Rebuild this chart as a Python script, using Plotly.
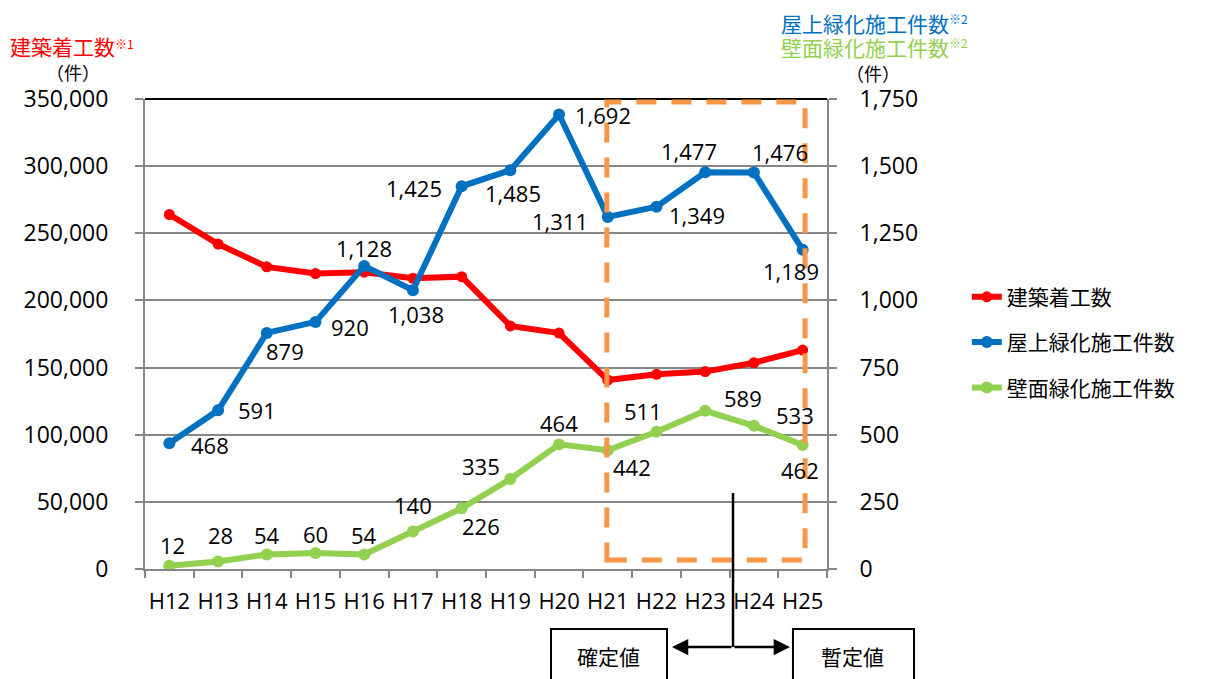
import plotly.graph_objects as go

categories = ["H12", "H13", "H14", "H15", "H16", "H17", "H18", "H19", "H20", "H21", "H22", "H23", "H24", "H25"]
building_starts = [264000, 242000, 225000, 220000, 221000, 216500, 217700, 181000, 175700, 140700, 145000, 147000, 153600, 163000]
rooftop_green = [468, 591, 879, 920, 1128, 1038, 1425, 1485, 1692, 1311, 1349, 1477, 1476, 1189]
wall_green = [12, 28, 54, 60, 54, 140, 226, 335, 464, 442, 511, 589, 533, 462]

# label offsets (pixels) for data labels
rooftop_shift = [(41, -2), (39, 0), (18, -18), (34, -5), (0, 18), (3, -24), (-48, -2), (3, -23),
                 (44, 0), (-48, -4), (40, -8), (-16, 21), (26, 21), (-12, -21)]
wall_shift = [(3, 21), (2, 26), (0, 20), (0, 19), (0, 20), (0, 26), (19, -18), (-29, 13),
              (0, 21), (24, -17), (-14, 21), (38, 13), (41, 11), (-3, -25)]

RED = "#FF0000"
BLUE = "#0070C0"
GREEN = "#92D050"
ORANGE = "#F79646"
GRID = "#868686"
JP = "Noto Sans CJK JP"
NUM = "Open Sans"

fig = go.Figure()
fig.add_trace(go.Scatter(x=categories, y=building_starts, name="建築着工数", mode="lines+markers",
                         line=dict(color=RED, width=6), marker=dict(color=RED, size=11),
                         legendgroup="a"))
fig.add_trace(go.Scatter(x=categories, y=rooftop_green, name="屋上緑化施工件数", mode="lines+markers",
                         line=dict(color=BLUE, width=6), marker=dict(color=BLUE, size=12),
                         yaxis="y2", legendgroup="b"))
fig.add_trace(go.Scatter(x=categories, y=wall_green, name="壁面緑化施工件数", mode="lines+markers",
                         line=dict(color=GREEN, width=6), marker=dict(color=GREEN, size=12),
                         yaxis="y2", legendgroup="c"))

annotations = []
for c, v, (dx, dy) in zip(categories, rooftop_green, rooftop_shift):
    annotations.append(dict(x=c, y=v, xref="x", yref="y2", text=f"{v:,}", showarrow=False,
                            xshift=dx, yshift=dy, font=dict(family=NUM, size=22, color="black")))
for c, v, (dx, dy) in zip(categories, wall_green, wall_shift):
    annotations.append(dict(x=c, y=v, xref="x", yref="y2", text=f"{v:,}", showarrow=False,
                            xshift=dx, yshift=dy, font=dict(family=NUM, size=22, color="black")))

# axis titles (note marks drawn as separate small texts)
annotations += [
    dict(x=-0.201, y=1.113, xref="paper", yref="paper", xanchor="left", yanchor="middle",
         text="建築着工数", showarrow=False, font=dict(family=JP, size=21, color=RED)),
    dict(x=-0.0465, y=1.119, xref="paper", yref="paper", xanchor="left", yanchor="middle",
         text="※1", showarrow=False, font=dict(family=JP, size=12, color=RED)),
    dict(x=-0.105, y=1.057, xref="paper", yref="paper", xanchor="center", yanchor="middle",
         text="（件）", showarrow=False, font=dict(family=JP, size=18, color="black")),
    dict(x=0.929, y=1.162, xref="paper", yref="paper", xanchor="left", yanchor="middle",
         text="屋上緑化施工件数", showarrow=False, font=dict(family=JP, size=21, color=BLUE)),
    dict(x=1.176, y=1.172, xref="paper", yref="paper", xanchor="left", yanchor="middle",
         text="※2", showarrow=False, font=dict(family=JP, size=12, color=BLUE)),
    dict(x=0.929, y=1.111, xref="paper", yref="paper", xanchor="left", yanchor="middle",
         text="壁面緑化施工件数", showarrow=False, font=dict(family=JP, size=21, color=GREEN)),
    dict(x=1.176, y=1.121, xref="paper", yref="paper", xanchor="left", yanchor="middle",
         text="※2", showarrow=False, font=dict(family=JP, size=12, color=GREEN)),
    dict(x=1.068, y=1.055, xref="paper", yref="paper", xanchor="center", yanchor="middle",
         text="（件）", showarrow=False, font=dict(family=JP, size=18, color="black")),
    # bottom boxes
    dict(x=0.680, y=-0.185, xref="paper", yref="paper", xanchor="center", yanchor="middle",
         text="確定値", showarrow=False, font=dict(family=JP, size=21, color="black")),
    dict(x=1.038, y=-0.185, xref="paper", yref="paper", xanchor="center", yanchor="middle",
         text="暫定値", showarrow=False, font=dict(family=JP, size=21, color="black")),
    # arrows
    dict(x=0.7727, y=-0.166, xref="paper", yref="paper", text="", showarrow=True,
         ax=61, ay=0, arrowhead=2, arrowsize=1.3, arrowwidth=2.5, arrowcolor="black"),
    dict(x=0.9457, y=-0.166, xref="paper", yref="paper", text="", showarrow=True,
         ax=-57, ay=0, arrowhead=2, arrowsize=1.3, arrowwidth=2.5, arrowcolor="black"),
]

shapes = [
    # top border
    dict(type="line", xref="paper", yref="paper", x0=0, x1=1, y0=1, y1=1,
         line=dict(color="black", width=2)),
    # orange dashed box around provisional years
    dict(type="rect", xref="x", yref="paper", x0=9 - 0.02, x1=13 + 0.05, y0=0.019, y1=0.9936,
         line=dict(color=ORANGE, width=5, dash="20px,15px")),
    # vertical divider line
    dict(type="line", xref="paper", yref="paper", x0=0.8622, x1=0.8622, y0=0.1617, y1=-0.166,
         line=dict(color="black", width=2.5)),
    # boxes
    dict(type="rect", xref="paper", yref="paper", x0=0.5953, x1=0.7654, y0=-0.1277, y1=-0.35,
         line=dict(color="black", width=2), fillcolor="white", layer="below"),
    dict(type="rect", xref="paper", yref="paper", x0=0.9501, x1=1.1276, y0=-0.1277, y1=-0.35,
         line=dict(color="black", width=2), fillcolor="white", layer="below"),
]

fig.update_layout(
    width=1223, height=671,
    margin=dict(l=137, r=404, t=91, b=110, autoexpand=False),
    plot_bgcolor="white", paper_bgcolor="white",
    showlegend=True,
    legend=dict(x=1.205, y=0.622, xanchor="left", yanchor="top", tracegroupgap=15,
                font=dict(family=JP, size=21, color="black"), bgcolor="rgba(0,0,0,0)"),
    xaxis=dict(type="category", showgrid=False, showline=True, linecolor=GRID, linewidth=2,
               ticks="outside", tickson="boundaries", ticklen=7, tickcolor=GRID, tickwidth=2,
               tickangle=0, automargin=False,
               tickfont=dict(family=NUM, size=22, color="black"), ticklabelstandoff=12,
               range=[-0.5, 13.5]),
    yaxis=dict(range=[0, 350000], dtick=50000, tickformat=",d", showgrid=True, gridcolor=GRID,
               gridwidth=2, showline=True, linecolor=GRID, linewidth=2, ticks="outside",
               ticklen=8, tickcolor=GRID, tickwidth=2, zeroline=False, automargin=False,
               tickfont=dict(family=NUM, size=23, color="black"), ticklabelstandoff=22),
    yaxis2=dict(range=[0, 1750], dtick=250, tickformat=",d", overlaying="y", side="right",
                showgrid=False, showline=True, linecolor=GRID, linewidth=2, ticks="outside",
                ticklen=8, tickcolor=GRID, tickwidth=2, zeroline=False, automargin=False,
                tickfont=dict(family=NUM, size=23, color="black"), ticklabelstandoff=18),
    annotations=annotations,
    shapes=shapes,
)

fig.write_html("out.html")
